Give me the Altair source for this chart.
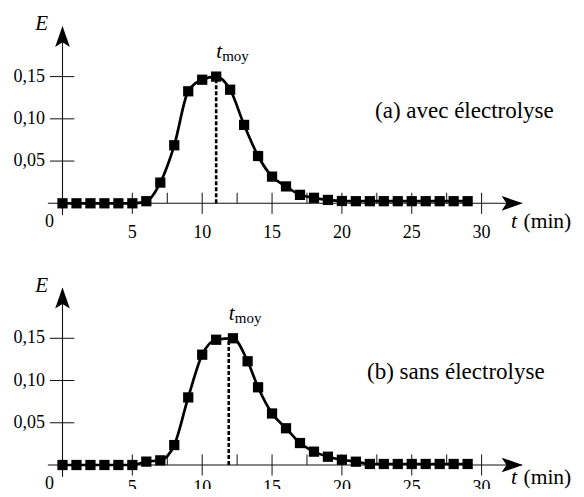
import altair as alt
import pandas as pd

# ---------------- data ----------------
t_a = list(range(30))
E_a = [0, 0, 0, 0, 0, 0, 0.0025, 0.0245, 0.0687, 0.1326, 0.1463, 0.150, 0.1345,
       0.0928, 0.056, 0.0316, 0.020, 0.010, 0.0065, 0.004, 0.0027, 0.0025, 0.0025,
       0.0025, 0.0025, 0.0025, 0.0025, 0.0025, 0.0025, 0.0025]
t_b = [0, 1, 2, 3, 4, 5, 6, 7, 8, 9, 10, 11, 12.2, 13.25, 14, 15, 16, 17, 18, 19,
       20, 21, 22, 23, 24, 25, 26, 27, 28, 29]
E_b = [0, 0, 0, 0, 0, 0, 0.004, 0.0055, 0.0236, 0.080, 0.1306, 0.1483, 0.150,
       0.1228, 0.092, 0.061, 0.0435, 0.026, 0.0158, 0.0098, 0.0062, 0.0039, 0.0012,
       0.0012, 0.0012, 0.0012, 0.0012, 0.0012, 0.0012, 0.0012]
t_moy = [11.0, 11.9]
E_moy = [0.150, 0.150]
panel_titles = ["(a) avec électrolyse", "(b) sans électrolyse"]
x_major = [5, 10, 15, 20, 25, 30]
x_major_text = ["5", "10", "15", "20", "25", "30"]
x_minor = [7.5, 12.5, 17.5, 22.5, 27.5]
y_ticks = [0.05, 0.10, 0.15]
y_tick_text = ["0,05", "0,10", "0,15"]
origin_text = "0"
x_var, x_unit, y_var = "t", "(min)", "E"
moy_sub = "moy"

# ---------------- layout ----------------
W = 568
X_DOMAIN = [-3.901, 36.757]
HEIGHTS = [249, 232]
Y_DOMAINS = [[-0.06357, 0.23121], [-0.02841, 0.24624]]
TITLE_T = [22.37, 21.8]
TITLE_E = [0.101, 0.1018]
XLAB_E = [-0.0414, -0.0331]
XNAME_E = [-0.0296, -0.0225]
FONT = "'Liberation Serif', 'DejaVu Serif', serif"

ARROW_RIGHT = "M0,0L-2,-0.7L-1.55,0L-2,0.7Z"
ARROW_UP = "M0,0L-0.7,2L0,1.55L0.7,2Z"


def txt(df, X, Y, **kw):
    return alt.Chart(df).mark_text(font=FONT, color="black", clip=True, **kw).encode(
        x=X(), y=Y(), text="txt:N")


def panel(i, t, E):
    xs = alt.Scale(domain=X_DOMAIN, nice=False, zero=False)
    ys = alt.Scale(domain=Y_DOMAINS[i], nice=False, zero=False)

    def X(f="t"):
        return alt.X(f, type="quantitative", scale=xs, axis=None)

    def Y(f="E"):
        return alt.Y(f, type="quantitative", scale=ys, axis=None)

    curve = pd.DataFrame({"t": t, "E": E})
    layers = []

    # axes lines
    xaxis = pd.DataFrame({"t": [-1.05], "t2": [32.9], "E": [0.0]})
    layers.append(alt.Chart(xaxis).mark_rule(color="#111", strokeWidth=1.1).encode(
        x=X(), x2="t2", y=Y()))
    yaxis = pd.DataFrame({"t": [0.0], "E": [-0.014], "E2": [0.209]})
    layers.append(alt.Chart(yaxis).mark_rule(color="#111", strokeWidth=1.1).encode(
        x=X(), y=Y(), y2="E2"))
    # ticks
    maj = pd.DataFrame({"t": x_major, "E": [-0.0125] * len(x_major), "E2": [0.0125] * len(x_major)})
    layers.append(alt.Chart(maj).mark_rule(color="#111", strokeWidth=1).encode(
        x=X(), y=Y(), y2="E2"))
    mnr = pd.DataFrame({"t": x_minor, "E": [0.0] * len(x_minor), "E2": [0.0125] * len(x_minor)})
    layers.append(alt.Chart(mnr).mark_rule(color="#111", strokeWidth=1).encode(
        x=X(), y=Y(), y2="E2"))
    yt = pd.DataFrame({"t": [-0.9] * 3, "t2": [0.85] * 3, "E": y_ticks})
    layers.append(alt.Chart(yt).mark_rule(color="#111", strokeWidth=1).encode(
        x=X(), x2="t2", y=Y()))
    # arrow heads
    ar = pd.DataFrame({"t": [32.94], "E": [0.0]})
    layers.append(alt.Chart(ar).mark_point(shape=ARROW_RIGHT, size=441, filled=True,
                                           color="black", opacity=1).encode(x=X(), y=Y()))
    au = pd.DataFrame({"t": [0.0], "E": [0.21]})
    layers.append(alt.Chart(au).mark_point(shape=ARROW_UP, size=441, filled=True,
                                           color="black", opacity=1).encode(x=X(), y=Y()))
    # tick labels
    xl = pd.DataFrame({"t": x_major, "E": [XLAB_E[i]] * len(x_major), "txt": x_major_text})
    layers.append(txt(xl, X, Y, fontSize=18, align="center", baseline="alphabetic"))
    yl = pd.DataFrame({"t": [-1.25] * 3, "E": y_ticks, "txt": y_tick_text})
    layers.append(txt(yl, X, Y, fontSize=18, align="right", baseline="middle"))
    ol = pd.DataFrame({"t": [-0.93], "E": [-0.0281], "txt": [origin_text]})
    layers.append(txt(ol, X, Y, fontSize=18, align="center", baseline="alphabetic"))
    # axis names
    el = pd.DataFrame({"t": [-1.5], "E": [0.2052], "txt": [y_var]})
    layers.append(txt(el, X, Y, fontSize=21, fontStyle="italic", align="center",
                      baseline="alphabetic"))
    tl = pd.DataFrame({"t": [32.1], "E": [XNAME_E[i]], "txt": [x_var]})
    layers.append(txt(tl, X, Y, fontSize=22, fontStyle="italic", align="left",
                      baseline="alphabetic"))
    ml = pd.DataFrame({"t": [33.0], "E": [XNAME_E[i]], "txt": [x_unit]})
    layers.append(txt(ml, X, Y, fontSize=21.5, align="left", baseline="alphabetic"))
    # curve
    layers.append(alt.Chart(curve).mark_line(color="black", strokeWidth=2.7,
                                             interpolate="monotone").encode(x=X(), y=Y()))
    # dashed t_moy line
    dm = pd.DataFrame({"t": [t_moy[i]], "E": [0.0], "E2": [E_moy[i]]})
    layers.append(alt.Chart(dm).mark_rule(color="black", strokeWidth=2.6,
                                          strokeDash=[4, 2]).encode(x=X(), y=Y(), y2="E2"))
    # points
    layers.append(alt.Chart(curve).mark_square(size=105, color="black", opacity=1).encode(
        x=X(), y=Y()))
    # t_moy label
    tm = pd.DataFrame({"t": [t_moy[i]], "E": [0.172], "txt": [x_var]})
    layers.append(txt(tm, X, Y, fontSize=21, fontStyle="italic", align="left",
                      baseline="alphabetic"))
    ts = pd.DataFrame({"t": [t_moy[i] + 0.43], "E": [0.1685], "txt": [moy_sub]})
    layers.append(txt(ts, X, Y, fontSize=15, align="left", baseline="alphabetic"))
    # panel title
    pt = pd.DataFrame({"t": [TITLE_T[i]], "E": [TITLE_E[i]], "txt": [panel_titles[i]]})
    layers.append(txt(pt, X, Y, fontSize=23, align="left", baseline="alphabetic"))

    return alt.layer(*layers).properties(width=W, height=HEIGHTS[i])


chart = alt.vconcat(panel(0, t_a, E_a), panel(1, t_b, E_b), spacing=0,
                    bounds="flush").properties(
    padding=0, background="white"
).configure_view(stroke=None)

chart.save("out.html", embed_options={"renderer": "svg", "actions": False})
